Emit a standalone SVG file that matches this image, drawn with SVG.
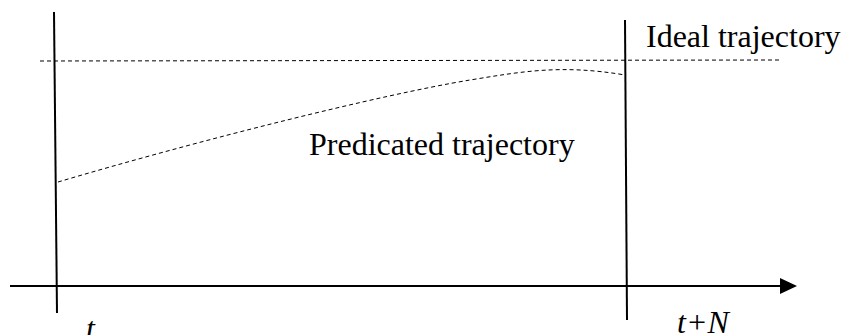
<svg xmlns="http://www.w3.org/2000/svg" width="843" height="335" viewBox="0 0 843 335">
<style>
.txt{font-family:"Liberation Serif","Times New Roman","DejaVu Serif",serif;font-size:32px;fill:#000}
.it{font-style:italic}
.solid{stroke:#000;stroke-width:2;fill:none}
.dash{stroke:#000;stroke-width:1;stroke-dasharray:4 3;fill:none}
</style>
<rect width="843" height="335" fill="#fff"/>
<g id="axes">
<line class="solid" x1="54" y1="12" x2="57" y2="313"/>
<line class="solid" x1="625" y1="20" x2="627" y2="320"/>
<line class="solid" x1="10" y1="286" x2="781" y2="286" stroke-width="2.5"/>
<polygon points="780,278 797,286 780,294" fill="#000"/>
</g>
<g id="ideal">
<line class="dash" x1="40" y1="61" x2="780" y2="60"/>
<text class="txt" x="646" y="47">Ideal trajectory</text>
</g>
<g id="predicted">
<path class="dash" d="M58,182 C200,140 380,95 470,80 C520,72 560,64 625,75"/>
<text class="txt" x="309" y="155">Predicated trajectory</text>
</g>
<g id="labels">
<text class="txt it" x="86" y="339">t</text>
<text class="txt it" x="677" y="333">t+N</text>
</g>
</svg>
